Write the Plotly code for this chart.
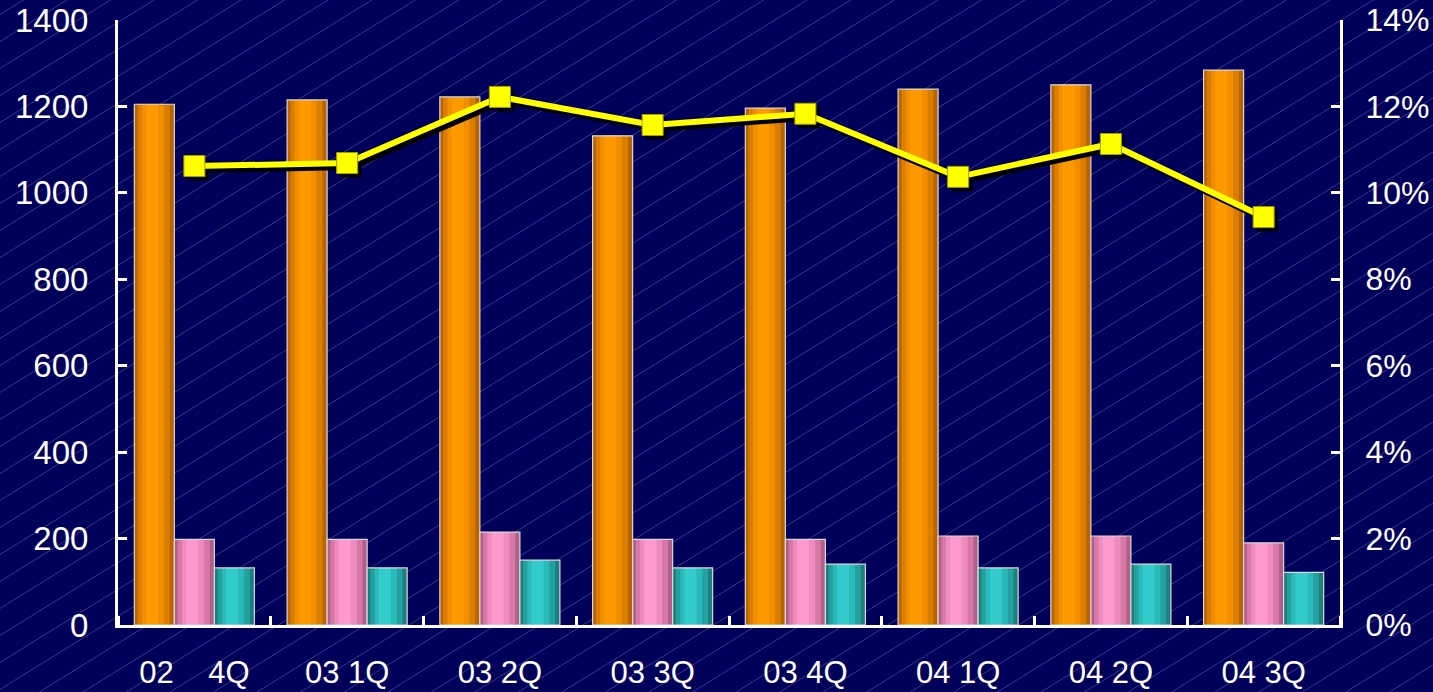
import plotly.graph_objects as go

categories = ["02\u00a0\u00a0\u00a0\u00a04Q", "03\u00a01Q", "03\u00a02Q", "03\u00a03Q",
              "03\u00a04Q", "04\u00a01Q", "04\u00a02Q", "04\u00a03Q"]
orange_vals = [1205, 1215, 1222, 1132, 1196, 1240, 1250, 1284]
pink_vals = [198, 198, 215, 198, 198, 206, 206, 190]
teal_vals = [132, 132, 150, 132, 141, 132, 141, 122]
rate_vals = [10.62, 10.69, 12.22, 11.57, 11.83, 10.37, 11.13, 9.44]
left_ticks = [0, 200, 400, 600, 800, 1000, 1200, 1400]
right_ticks = [0, 2, 4, 6, 8, 10, 12, 14]
right_labels = [f"{v}%" for v in right_ticks]

xs = list(range(len(categories)))

BG = "#00005A"
FONT = "Liberation Sans, Arial, sans-serif"

# figure geometry
W, H = 1433, 692
ML, MR, MT, MB = 118, 93, 20, 67
PW, PH = W - ML - MR, H - MT - MB

fig = go.Figure()

# gradient layers: (fraction of width, colour) per series
series = [
    (orange_vals, ["#B86400", "#D97E00", "#F28E00", "#FF9900"]),
    (pink_vals, ["#B45F88", "#D678A8", "#EE8CBE", "#FF99CC"]),
    (teal_vals, ["#1C7F7F", "#24A0A0", "#2BBABA", "#33CCCC"]),
]
fracs = [1.0, 0.8, 0.55, 0.3]
group_w = 0.786
bw = group_w / 3
for si, (vals, cols) in enumerate(series):
    base_off = -group_w / 2 + si * bw
    for f, c in zip(fracs, cols):
        w = bw * f
        off = base_off + (bw - w) / 2 - bw * 0.04 * (1 - f) * 2
        fig.add_trace(go.Bar(x=xs, y=vals, width=w, offset=off,
                             marker=dict(color=c, line=dict(width=0)),
                             yaxis="y", hoverinfo="skip", showlegend=False))
    fig.add_trace(go.Bar(x=xs, y=vals, width=bw, offset=base_off,
                         marker=dict(color="rgba(0,0,0,0)",
                                     line=dict(color="#D8D8D8", width=1.2)),
                         yaxis="y", hoverinfo="skip", showlegend=False))

# line shadow (offset a few pixels down-right)
dx = 4 / (PW / len(categories))
dy = 4 / (PH / 14)
fig.add_trace(go.Scatter(x=[x + dx for x in xs], y=[v - dy for v in rate_vals],
                         yaxis="y2", mode="lines+markers",
                         line=dict(color="black", width=6),
                         marker=dict(symbol="square", size=21, color="black"),
                         hoverinfo="skip", showlegend=False))
fig.add_trace(go.Scatter(x=xs, y=rate_vals, yaxis="y2", mode="lines+markers",
                         line=dict(color="#FFFF00", width=6),
                         marker=dict(symbol="square", size=21, color="#FFFF00",
                                     line=dict(color="#A0A000", width=1)),
                         hoverinfo="skip", showlegend=False))

# diagonal hatching background
shapes = []
slope = 0.62
step = 27
c = -slope * W - step
while c < H + step:
    x0, x1 = 0, W
    y0, y1 = c, c + slope * W
    shapes.append(dict(type="line", xref="paper", yref="paper", layer="below",
                       x0=(x0 - ML) / PW, x1=(x1 - ML) / PW,
                       y0=(y0 - MB) / PH, y1=(y1 - MB) / PH,
                       line=dict(color="rgba(190,190,225,0.30)", width=1)))
    c += step

tickfont = dict(family=FONT, size=33, color="white")
rtickfont = dict(family=FONT, size=32, color="white")
xtickfont = dict(family=FONT, size=31, color="white")
fig.update_layout(
    width=W, height=H,
    margin=dict(l=ML, r=MR, t=MT, b=MB),
    paper_bgcolor=BG, plot_bgcolor="rgba(0,0,0,0)",
    barmode="overlay",
    showlegend=False,
    shapes=shapes,
    xaxis=dict(range=[-0.5, len(categories) - 0.5], tickvals=xs, ticktext=categories,
               ticks="", showgrid=False, zeroline=False, automargin=False,
               showline=True, linecolor="white", linewidth=3,
               tickfont=xtickfont, ticklabelstandoff=18,
               minor=dict(tick0=0.5, dtick=1, ticks="inside", ticklen=9,
                          tickwidth=3, tickcolor="white", showgrid=False)),
    yaxis=dict(range=[0, 1400], tickvals=left_ticks, ticks="inside", ticklen=9,
               tickwidth=3, tickcolor="white", showgrid=False, zeroline=False,
               showline=True, linecolor="white", linewidth=3, automargin=False,
               tickfont=tickfont, ticklabelstandoff=20),
    yaxis2=dict(range=[0, 14], tickvals=right_ticks, ticktext=right_labels,
                overlaying="y", side="right", ticks="inside", ticklen=9,
                tickwidth=3, tickcolor="white", showgrid=False, zeroline=False,
                showline=True, linecolor="white", linewidth=3, automargin=False,
                tickfont=rtickfont, ticklabelstandoff=16),
)

fig.write_html("out.html", config={"displayModeBar": False},
               post_script="document.body.style.margin='0';document.body.style.background='#00005A';")
